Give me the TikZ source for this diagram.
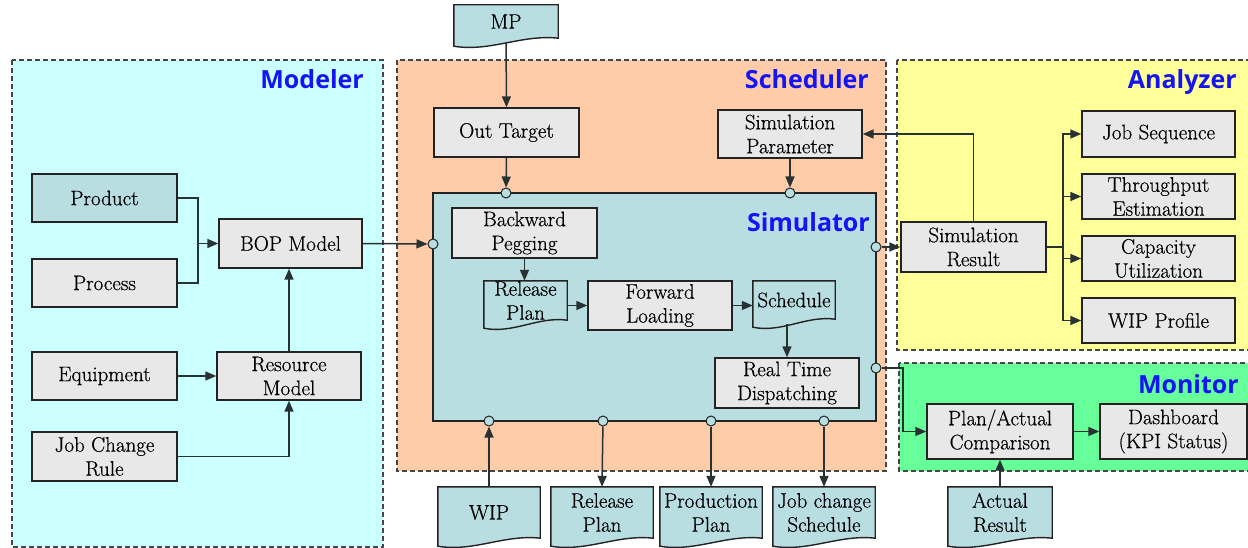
\documentclass[tikz,border=0pt]{standalone}
\usepackage{fontspec}
\newfontfamily\boxfont{Latin Modern Roman}[FakeBold=0.5]
\newfontfamily\titlefont{Open Sans}
\usetikzlibrary{arrows.meta,calc}

\definecolor{modelerbg}{RGB}{204,255,255}
\definecolor{schedbg}{RGB}{255,204,170}
\definecolor{analyzerbg}{RGB}{255,255,153}
\definecolor{monitorbg}{RGB}{102,255,153}
\definecolor{simbg}{RGB}{185,222,226}
\definecolor{boxgray}{RGB}{232,232,232}
\definecolor{edgecol}{RGB}{35,35,35}
\definecolor{wirecol}{RGB}{40,50,50}
\definecolor{panelline}{RGB}{70,70,70}
\definecolor{titleblue}{RGB}{20,20,245}

\pgfdeclarelayer{panels}
\pgfdeclarelayer{docs}
\pgfsetlayers{panels,docs,main}

\begin{document}
\begin{tikzpicture}[x=1pt,y=-1pt,
  every node/.style={font=\boxfont\fontsize{21}{24}\selectfont},
  box/.style={draw=edgecol, line width=1.4pt, fill=boxgray, inner sep=0pt, align=center},
  docnode/.style={inner sep=0pt, align=center},
  docline/.style={draw=edgecol, line width=1.4pt, fill=simbg},
  panel/.style={draw=panelline, line width=1.1pt, dash pattern=on 5pt off 3pt},
  port/.style={circle, draw=edgecol, line width=1pt, fill=simbg, minimum size=10pt, inner sep=0pt},
  conn/.style={draw=wirecol, line width=1.5pt},
  arr/.style={conn, -{Triangle[length=11pt,width=9pt]}},
  title/.style={font=\titlefont\bfseries\fontsize{25}{30}\selectfont, text=titleblue, anchor=base east, inner sep=0pt}
]
\useasboundingbox (0,0) rectangle (1248,548);

% ---------- panels ----------
\begin{pgfonlayer}{panels}
  \path[panel, fill=modelerbg]  (12,60)  rectangle (383,547);
  \path[panel, fill=schedbg]    (397,60) rectangle (886,471);
  \path[panel, fill=analyzerbg] (897,60) rectangle (1252,350);
  \path[panel, fill=monitorbg]  (899,363) rectangle (1252,471);
  \path[draw=edgecol, line width=1.4pt, fill=simbg] (433,193) rectangle (876,421);
\end{pgfonlayer}

\node[title] (tmod) at (364,89) {Modeler};
\node[title] (tsch) at (869,89) {Scheduler};
\node[title] (tsim) at (870,232) {Simulator};
\node[title] (tana) at (1237,89) {Analyzer};
\node[title] (tmon) at (1239,393) {Monitor};

% ---------- Modeler ----------
\node[box, fill=simbg, minimum width=145pt, minimum height=48pt] (prod)  at (104.5,198)   {Product};
\node[box, minimum width=145pt, minimum height=48pt] (proc)  at (104.5,283)   {Process};
\node[box, minimum width=143pt, minimum height=49pt] (bop)   at (290.5,243.5) {BOP Model};
\node[box, minimum width=145pt, minimum height=48pt] (equip) at (104.5,376)   {Equipment};
\node[box, minimum width=144pt, minimum height=48pt] (res)   at (289,376)     {Resource\\Model};
\node[box, minimum width=145pt, minimum height=49pt] (jcr)   at (104.5,456.5) {Job Change\\Rule};
\coordinate (mj) at (198,243.5);

% ---------- Scheduler ----------
\node[docnode, minimum width=104pt, minimum height=33pt] (mp) at (506,21.5) {MP};
\node[box, minimum width=145pt, minimum height=49pt] (ot) at (506.5,132.5) {Out Target};
\node[box, minimum width=144pt, minimum height=48pt] (sp) at (790,134) {Simulation\\Parameter};

% ---------- Simulator ----------
\node[box, minimum width=145pt, minimum height=50pt] (bp)  at (524.5,233) {Backward\\Pegging};
\node[docnode, minimum width=83pt, minimum height=39pt] (rp1) at (525.5,300.5) {Release\\Plan};
\node[box, minimum width=144pt, minimum height=49pt] (fl)  at (660,305.5) {Forward\\Loading};
\node[docnode, minimum width=82pt, minimum height=38pt] (sch) at (794,300) {Schedule};
\node[box, minimum width=144pt, minimum height=50pt] (rtd) at (787,383) {Real Time\\Dispatching};

% ports on the simulator frame
\node[port] (pot) at (506,193) {};
\node[port] (psp) at (790,193) {};
\node[port] (pin) at (433,244) {};
\node[port] (psr) at (876,247) {};
\node[port] (pmon) at (876,368) {};
\node[port] (pb1) at (489,421) {};
\node[port] (pb2) at (603,421) {};
\node[port] (pb3) at (711,421) {};
\node[port] (pb4) at (824,421) {};

% output documents below the scheduler
\node[docnode, minimum width=102pt, minimum height=51pt] (wip) at (489,512.5) {WIP};
\node[docnode, minimum width=102pt, minimum height=51pt] (rp2) at (602,512.5) {Release\\Plan};
\node[docnode, minimum width=102pt, minimum height=51pt] (pp)  at (711,512.5) {Production\\Plan};
\node[docnode, minimum width=102pt, minimum height=51pt] (jcs) at (824,512.5) {Job change\\Schedule};

% ---------- Analyzer ----------
\node[box, minimum width=145pt, minimum height=50pt] (sr) at (973.5,247) {Simulation\\Result};
\node[box, minimum width=153pt, minimum height=46pt] (js) at (1158.5,134)   {Job Sequence};
\node[box, minimum width=153pt, minimum height=45pt] (te) at (1158.5,196.5) {Throughput\\Estimation};
\node[box, minimum width=153pt, minimum height=45pt] (cu) at (1158.5,258.5) {Capacity\\Utilization};
\node[box, minimum width=153pt, minimum height=45pt] (wp) at (1158.5,320.5) {WIP Profile};
\coordinate (br) at (1063,247);

% ---------- Monitor ----------
\node[box, minimum width=146pt, minimum height=55pt] (pac) at (1000,431.5) {Plan/Actual\\Comparison};
\node[box, minimum width=147pt, minimum height=55pt] (db)  at (1173.5,431.5) {Dashboard\\(KPI Status)};
\node[docnode, minimum width=104pt, minimum height=51pt] (ar) at (1000,512.5) {Actual\\Result};
\coordinate (mbend) at (903,368);

% document outlines with a wavy lower edge
\begin{pgfonlayer}{docs}
  \foreach \d in {mp,rp1,sch,wip,rp2,pp,jcs,ar}{
    \draw[docline] let \p1=(\d.south west), \p2=(\d.north east), \n1={\x2-\x1} in
      (\x1,\y2) -- (\x2,\y2) -- (\x2,\y1)
      .. controls (\x2-0.35*\n1,\y1+4pt) and (\x1+0.35*\n1,\y1-14pt) .. (\x1,\y1-8pt) -- cycle;
  }
\end{pgfonlayer}

% ---------- connectors ----------
\draw[conn] (prod.east) -| (mj);
\draw[conn] (proc.east) -| (mj);
\draw[arr] (mj) -- (bop.west);
\draw[arr] (equip.east) -- (res.west);
\draw[arr] (jcr.east) -| (res.south);
\draw[arr] (res.north) -- (res.north |- bop.south);
\draw[arr] (bop.east) -- (pin);

\draw[arr, shorten <=5pt] (mp.south) -- (ot.north);
\draw[arr] (ot.south) -- (pot);
\draw[arr] (sp.south) -- (psp);

\draw[arr] (bp.south) -- (bp.south |- rp1.north);
\draw[arr] (rp1.east |- fl.west) -- (fl.west);
\draw[arr] (fl.east) -- (fl.east -| sch.west);
\draw[arr, shorten <=5pt] (sch.south -| rtd.north) -- (rtd.north);

\draw[arr] (wip.north) -- (pb1);
\draw[arr] (pb2) -- (rp2.north);
\draw[arr] (pb3) -- (pp.north);
\draw[arr] (pb4) -- (jcs.north);

\draw[arr] (psr) -- (sr.west);
\draw[arr] (sr.north) |- (sp.east);
\draw[conn] (sr.east) -- (br);
\draw[arr] (br) |- (js.west);
\draw[arr] (br) |- (te.west);
\draw[arr] (br) |- (cu.west);
\draw[arr] (br) |- (wp.west);

\draw[arr] (pmon) -- (mbend) |- (pac.west);
\draw[arr] (pac.east) -- (db.west);
\draw[arr] (ar.north) -- (pac.south);
\end{tikzpicture}
\end{document}
